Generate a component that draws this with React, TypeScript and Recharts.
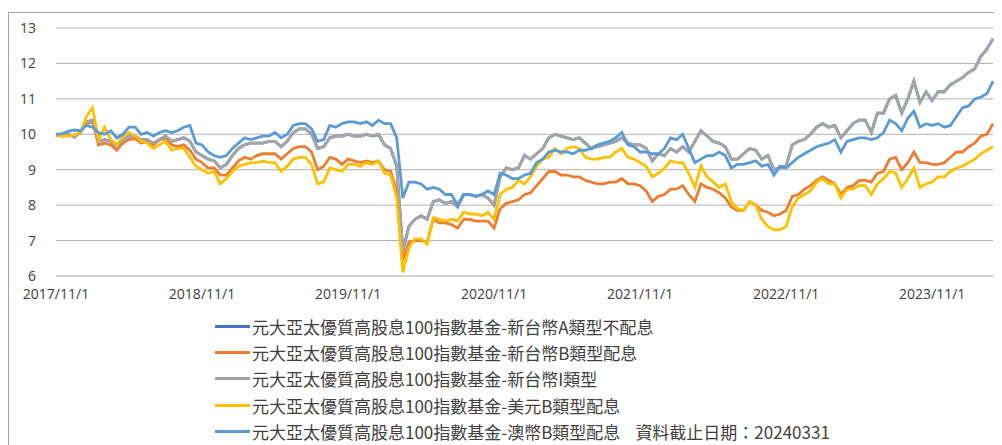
import React from 'react';
import { LineChart, Line, XAxis, YAxis, CartesianGrid } from 'recharts';

// Semi-monthly samples starting 2017/11/1 (t = months since start)
const seriesNames = [
  '元大亞太優質高股息100指數基金-新台幣A類型不配息',
  '元大亞太優質高股息100指數基金-新台幣B類型配息',
  '元大亞太優質高股息100指數基金-新台幣I類型',
  '元大亞太優質高股息100指數基金-美元B類型配息',
  '元大亞太優質高股息100指數基金-澳幣B類型配息',
];
const seriesColors = ['#4472C4', '#ED7D31', '#A5A5A5', '#FFC000', '#5B9BD5'];
const dateNote = '資料截止日期：20240331';

const xTickMonths = [0, 12, 24, 36, 48, 60, 72];
const xTickLabels = ['2017/11/1', '2018/11/1', '2019/11/1', '2020/11/1', '2021/11/1', '2022/11/1', '2023/11/1'];
const yTicks = [6, 7, 8, 9, 10, 11, 12, 13];

const twdI = [
  9.98, 9.97, 10.0, 9.92, 10.05, 10.35, 10.4, 9.8, 9.85, 9.8,
  9.65, 9.85, 9.95, 9.95, 9.85, 9.85, 9.75, 9.85, 9.95, 9.8,
  9.85, 9.9, 9.8, 9.5, 9.4, 9.3, 9.25, 9.05, 9.15, 9.4,
  9.6, 9.7, 9.75, 9.75, 9.75, 9.8, 9.8, 9.65, 9.8, 10.05,
  10.15, 10.15, 10.0, 9.6, 9.65, 9.9, 9.95, 9.95, 10.0, 9.95,
  9.95, 10.0, 9.95, 10.0, 9.7, 9.6, 9.1, 6.7, 7.4, 7.6,
  7.7, 7.6, 8.1, 8.15, 8.05, 8.1, 7.95, 8.3, 8.3, 8.25,
  8.3, 8.2, 8.0, 8.8, 9.05, 9.0, 9.05, 9.4, 9.3, 9.45,
  9.6, 9.9, 10.0, 9.95, 9.9, 9.85, 9.9, 9.75, 9.6, 9.65,
  9.7, 9.75, 9.8, 9.9, 9.75, 9.7, 9.7, 9.6, 9.25, 9.45,
  9.4, 9.6, 9.5, 9.65, 9.5, 9.8, 10.1, 9.95, 9.8, 9.75,
  9.65, 9.3, 9.3, 9.45, 9.6, 9.55, 9.3, 9.4, 9.0, 9.05,
  9.1, 9.7, 9.8, 9.85, 10.0, 10.2, 10.3, 10.2, 10.25, 9.9,
  10.1, 10.3, 10.4, 10.4, 10.05, 10.6, 10.6, 11.0, 11.1, 10.6,
  11.0, 11.5, 10.9, 11.2, 10.95, 11.2, 11.2, 11.4, 11.5, 11.6,
  11.75, 11.85, 12.2, 12.4, 12.7,
];
// A class sits exactly under the I class line in the reference
const twdA = twdI;
const twdB = [
  9.97, 9.95, 9.97, 9.95, 10.05, 10.3, 10.35, 9.7, 9.75, 9.7,
  9.55, 9.75, 9.85, 9.88, 9.75, 9.8, 9.7, 9.85, 9.88, 9.7,
  9.65, 9.7, 9.55, 9.3, 9.2, 9.05, 9.05, 8.85, 8.85, 9.05,
  9.25, 9.35, 9.3, 9.4, 9.45, 9.45, 9.45, 9.3, 9.45, 9.6,
  9.65, 9.65, 9.5, 9.0, 9.1, 9.35, 9.3, 9.15, 9.3, 9.25,
  9.2, 9.25, 9.2, 9.25, 9.0, 8.95, 8.4, 6.45, 6.95, 7.0,
  7.0, 6.95, 7.6, 7.5, 7.5, 7.45, 7.35, 7.6, 7.6, 7.55,
  7.55, 7.55, 7.35, 7.9, 8.05, 8.1, 8.15, 8.3, 8.35, 8.55,
  8.75, 8.95, 8.95, 8.85, 8.85, 8.8, 8.8, 8.7, 8.65, 8.6,
  8.6, 8.65, 8.65, 8.75, 8.6, 8.6, 8.55, 8.4, 8.1, 8.25,
  8.3, 8.45, 8.45, 8.55, 8.3, 8.1, 8.6, 8.5, 8.45, 8.35,
  8.2, 7.95, 7.85, 7.85, 8.1, 8.0, 7.85, 7.8, 7.7, 7.75,
  7.85, 8.25, 8.3, 8.45, 8.55, 8.7, 8.8, 8.7, 8.6, 8.3,
  8.5, 8.55, 8.7, 8.7, 8.65, 8.9, 8.95, 9.3, 9.35, 9.0,
  9.2, 9.5, 9.2, 9.2, 9.15, 9.15, 9.2, 9.35, 9.5, 9.5,
  9.65, 9.75, 9.95, 10.0, 10.3,
];
const usdB = [
  9.97, 9.95, 9.95, 9.98, 10.05, 10.5, 10.75, 9.85, 10.2, 9.85,
  9.7, 9.95, 10.05, 9.95, 9.8, 9.75, 9.6, 9.7, 9.8, 9.55,
  9.6, 9.6, 9.35, 9.1, 9.0, 8.9, 8.95, 8.6, 8.75, 8.95,
  9.1, 9.15, 9.2, 9.2, 9.25, 9.2, 9.2, 8.95, 9.1, 9.3,
  9.35, 9.35, 9.15, 8.6, 8.65, 9.05, 9.0, 8.95, 9.15, 9.15,
  9.1, 9.2, 9.15, 9.25, 8.9, 8.85, 8.2, 6.1, 6.8, 7.05,
  7.05, 6.9, 7.65, 7.6, 7.55, 7.6, 7.55, 7.8, 7.75, 7.75,
  7.7, 7.8, 7.6, 8.3, 8.45, 8.5, 8.7, 8.6, 8.8, 9.1,
  9.3, 9.35, 9.6, 9.45, 9.6, 9.65, 9.6, 9.35, 9.3, 9.3,
  9.35, 9.35, 9.5, 9.6, 9.35, 9.3, 9.2, 9.1, 8.8, 8.9,
  9.05, 9.25, 9.2, 9.2, 8.9, 8.5, 9.1, 8.8, 8.65, 8.5,
  8.6, 8.1, 7.9, 7.85, 8.1, 8.0, 7.6, 7.4, 7.3, 7.3,
  7.4, 7.95, 8.2, 8.3, 8.4, 8.65, 8.75, 8.6, 8.6, 8.2,
  8.45, 8.45, 8.55, 8.55, 8.3, 8.6, 8.75, 8.95, 8.9, 8.5,
  8.75, 9.05, 8.5, 8.6, 8.65, 8.8, 8.8, 8.95, 9.05, 9.1,
  9.2, 9.3, 9.45, 9.55, 9.65,
];
const audB = [
  10.0, 10.02, 10.08, 10.12, 10.1, 10.25, 10.2, 10.05, 10.0, 10.1,
  9.9, 10.0, 10.2, 10.2, 10.0, 10.05, 9.95, 10.05, 10.1, 10.05,
  10.1, 10.2, 10.25, 9.75, 9.7, 9.5, 9.4, 9.35, 9.4, 9.6,
  9.75, 9.9, 9.85, 9.9, 9.95, 9.95, 10.05, 9.9, 10.0, 10.25,
  10.3, 10.3, 10.15, 9.8, 9.85, 10.25, 10.2, 10.3, 10.35, 10.35,
  10.3, 10.35, 10.25, 10.4, 10.3, 10.3, 9.9, 8.2, 8.65, 8.65,
  8.6, 8.45, 8.5, 8.45, 8.3, 8.3, 8.0, 8.3, 8.3, 8.25,
  8.3, 8.4, 8.3, 8.9, 8.85, 8.75, 8.75, 8.85, 8.9, 9.2,
  9.3, 9.5, 9.55, 9.5, 9.5, 9.45, 9.55, 9.55, 9.6, 9.7,
  9.75, 9.8, 9.9, 10.05, 9.7, 9.65, 9.5, 9.5, 9.45, 9.45,
  9.6, 9.9, 9.85, 10.0, 9.6, 9.2, 9.3, 9.4, 9.4, 9.5,
  9.4, 9.05, 9.15, 9.15, 9.2, 9.25, 9.1, 9.15, 8.85, 9.1,
  9.05, 9.2, 9.35, 9.45, 9.55, 9.65, 9.7, 9.75, 9.85, 9.5,
  9.8, 9.85, 9.9, 9.9, 9.85, 9.9, 10.05, 10.4, 10.3, 10.1,
  10.45, 10.65, 10.2, 10.3, 10.25, 10.3, 10.2, 10.25, 10.5, 10.75,
  10.8, 11.0, 11.05, 11.15, 11.5,
];

const seriesData = [twdA, twdB, twdI, usdB, audB];
const keys = ['a', 'b', 'i', 'usd', 'aud'];

const data = twdA.map((_, idx) => {
  const row: Record<string, number> = { t: idx * 0.5 };
  keys.forEach((k, s) => {
    row[k] = seriesData[s][idx];
  });
  return row;
});

const axisFont = { fontFamily: '"Open Sans", sans-serif', fontSize: 14, fill: '#404040' };

export default function App() {
  return (
    <div
      style={{
        position: 'relative',
        marginTop: 4,
        width: 1000,
        height: 440,
        borderTop: '1px solid #a6a6a6',
        borderLeft: '1px solid #a6a6a6',
        boxSizing: 'border-box',
      }}
    >
      <LineChart width={999} height={300} data={data} margin={{ top: 15, right: 15, bottom: 0, left: 0 }}>
        <CartesianGrid vertical={false} stroke="#b0b0b0" strokeWidth={1} />
        <XAxis
          dataKey="t"
          type="number"
          domain={[0, 77]}
          ticks={xTickMonths}
          tickFormatter={(v: number) => xTickLabels[xTickMonths.indexOf(v)] ?? ''}
          tickLine={false}
          tickSize={0}
          tickMargin={13}
          axisLine={{ stroke: '#d0d0d0', strokeWidth: 2 }}
          tick={axisFont}
          interval={0}
          height={37}
        />
        <YAxis
          domain={[6, 13]}
          ticks={yTicks}
          interval={0}
          tickLine={false}
          axisLine={false}
          tickSize={0}
          tickMargin={20}
          width={47}
          tick={axisFont}
        />
        {keys.map((k, s) => (
          <Line
            key={k}
            dataKey={k}
            type="linear"
            stroke={seriesColors[s]}
            strokeWidth={2.8}
            dot={false}
            isAnimationActive={false}
          />
        ))}
      </LineChart>
      <div style={{ position: 'absolute', left: 206, top: 300 }}>
        {seriesNames.map((name, s) => (
          <div
            key={name}
            style={{
              display: 'flex',
              alignItems: 'center',
              height: 26.3,
              fontFamily: '"Noto Sans CJK TC", sans-serif',
              fontSize: 17,
              color: '#404040',
              whiteSpace: 'pre',
            }}
          >
            <span
              style={{
                display: 'inline-block',
                width: 35,
                height: 0,
                borderTop: `3px solid ${seriesColors[s]}`,
                marginRight: 2,
              }}
            />
            <span>{name}</span>
            {s === seriesNames.length - 1 && <span style={{ marginLeft: 15 }}>{dateNote}</span>}
          </div>
        ))}
      </div>
    </div>
  );
}
